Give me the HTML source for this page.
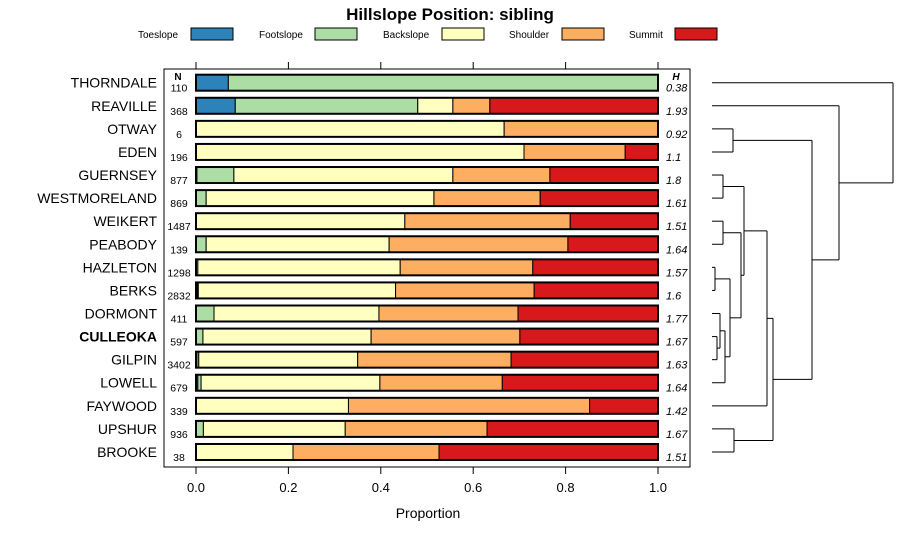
<!DOCTYPE html>
<html><head><meta charset="utf-8"><style>
body{margin:0;background:#fff;}
svg{display:block;font-family:"Liberation Sans",sans-serif;}
</style></head><body>
<svg id="c" width="900" height="540"></svg>
<script>
const series=["Toeslope","Footslope","Backslope","Shoulder","Summit"];
const colors=["#2b83ba","#abdda4","#ffffbf","#fdae61","#d7191c"];
const soils=["THORNDALE","REAVILLE","OTWAY","EDEN","GUERNSEY","WESTMORELAND","WEIKERT","PEABODY","HAZLETON","BERKS","DORMONT","CULLEOKA","GILPIN","LOWELL","FAYWOOD","UPSHUR","BROOKE"];
const nVals=[110,368,6,196,877,869,1487,139,1298,2832,411,597,3402,679,339,936,38];
const hVals=["0.38","1.93","0.92","1.1","1.8","1.61","1.51","1.64","1.57","1.6","1.77","1.67","1.63","1.64","1.42","1.67","1.51"];
const toe=[0.07,0.085,0,0,0.002,0,0,0,0,0.003,0,0,0.002,0.004,0,0,0];
const foot=[0.93,0.395,0,0,0.08,0.022,0,0.022,0.004,0.002,0.039,0.015,0.004,0.007,0,0.016,0];
const back=[0,0.076,0.667,0.71,0.474,0.493,0.452,0.396,0.438,0.427,0.357,0.364,0.344,0.387,0.33,0.307,0.21];
const shoulder=[0,0.08,0.333,0.219,0.21,0.23,0.358,0.387,0.287,0.3,0.301,0.322,0.332,0.265,0.522,0.307,0.316];
const summit=[0,0.364,0,0.071,0.234,0.255,0.19,0.195,0.271,0.268,0.303,0.299,0.318,0.337,0.148,0.37,0.474];
const xTicks=[0,0.2,0.4,0.6,0.8,1.0];
const xTickLabels=["0.0","0.2","0.4","0.6","0.8","1.0"];
const svg=document.getElementById('c');
const NS="http://www.w3.org/2000/svg";
function mk(t,a,p){const e=document.createElementNS(NS,t);for(const k in a)e.setAttribute(k,a[k]);(p||svg).appendChild(e);return e;}
const x=v=>196+v*462;
const y=i=>82.7+i*23.08;
let t=mk('text',{x:450,y:20,'text-anchor':'middle','font-size':17,'font-weight':'bold'});t.textContent="Hillslope Position: sibling";

const lg=[[138,191],[259,315],[383,442],[509,562],[629,675]];
series.forEach((s,k)=>{
 const g=mk('g',{});
 
 
 const tt=mk('text',{x:lg[k][0],y:38,'font-size':10},g);tt.textContent=s;
 mk('rect',{x:lg[k][1],y:28,width:42,height:12,fill:colors[k],stroke:'#000','stroke-width':1},g);
});
const panel=mk('rect',{x:164,y:69,width:526,height:398,fill:'none',stroke:'#000','stroke-width':1});

xTicks.forEach((v,i)=>{
 mk('line',{x1:x(v),x2:x(v),y1:62,y2:69,stroke:'#000'});
 mk('line',{x1:x(v),x2:x(v),y1:467,y2:474,stroke:'#000'});
 const l=mk('text',{x:x(v),y:492,'text-anchor':'middle','font-size':13});l.textContent=xTickLabels[i];
 
});
t=mk('text',{x:428,y:518,'text-anchor':'middle','font-size':14});t.textContent="Proportion";

t=mk('text',{x:178,y:80,'text-anchor':'middle','font-size':10,'font-weight':'bold'});t.textContent="N";
t=mk('text',{x:676,y:80,'text-anchor':'middle','font-size':10,'font-weight':'bold','font-style':'italic'});t.textContent="H";
const data=[toe,foot,back,shoulder,summit];
soils.forEach((s,i)=>{
 const cy=y(i);
 const lab=mk('text',{x:157,y:cy+5,'text-anchor':'end','font-size':14,'font-weight':s==="CULLEOKA"?'bold':'normal'});lab.textContent=s;
 
 const n=mk('text',{x:179,y:cy+9,'text-anchor':'middle','font-size':10.5});n.textContent=nVals[i];
 const h=mk('text',{x:666,y:cy+9,'font-size':11,'font-style':'italic'});h.textContent=hVals[i];
 let c=0;
 data.forEach((arr,k)=>{
  const v=arr[i]; if(v<=0){return;}
  const r=mk('rect',{x:x(c),y:cy-8,width:x(c+v)-x(c),height:16,fill:colors[k],stroke:'#000','stroke-width':1});
  
  c+=v;
 });
 mk('rect',{x:x(0),y:cy-8,width:462,height:16,fill:'none',stroke:'#000','stroke-width':2});
});
const dg=mk('g',{stroke:'#000','stroke-width':1,fill:'none'});

function L(x1,y1,x2,y2){mk('line',{x1,y1,x2,y2},dg);}
function join(xa,ya,xb,yb,xn){L(xa,ya,xn,ya);L(xb,yb,xn,yb);L(xn,ya,xn,yb);return [xn,(ya+yb)/2];}
const lx=712;
const ob=join(lx,y(2),lx,y(3),733);
const gw=join(lx,y(4),lx,y(5),723);
const wp=join(lx,y(6),lx,y(7),723);
const hb=join(lx,y(8),lx,y(9),715);
const cg=join(lx,y(11),lx,y(12),717);
const d1=join(lx,y(10),cg[0],cg[1],720);
const d2=join(d1[0],d1[1],lx,y(13),725);
const d3=join(hb[0],hb[1],d2[0],d2[1],730);
const d4=join(wp[0],wp[1],d3[0],d3[1],741);
const d5=join(gw[0],gw[1],d4[0],d4[1],744);
const d6=join(d5[0],d5[1],lx,y(14),767);
const ub=join(lx,y(15),lx,y(16),734);
const d7=join(d6[0],d6[1],ub[0],ub[1],773);
const d8=join(ob[0],ob[1],d7[0],d7[1],812);
const d9=join(lx,y(1),d8[0],d8[1],839);
join(lx,y(0),d9[0],d9[1],893);
</script>
</body></html>
